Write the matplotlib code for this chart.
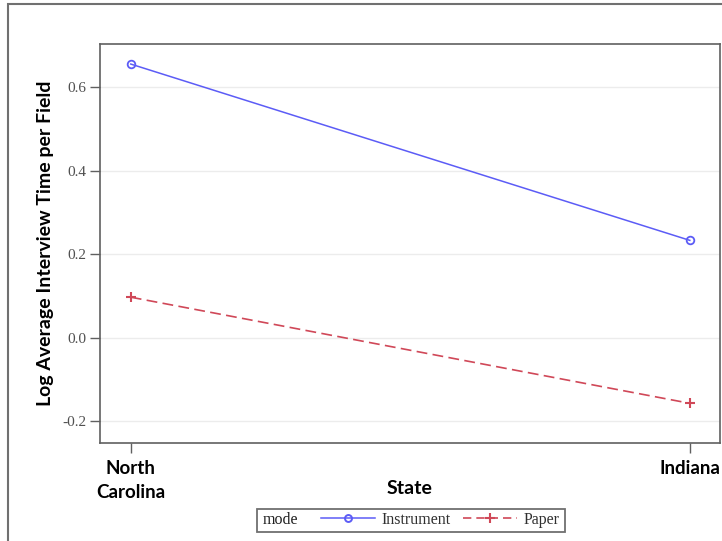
import matplotlib
matplotlib.use("Agg")
import matplotlib.pyplot as plt
from matplotlib.patches import Rectangle
from matplotlib.lines import Line2D

states = ['North\nCarolina', 'Indiana']
instrument = [0.655, 0.233]
paper = [0.097, -0.157]
yticks = [-0.2, 0.0, 0.2, 0.4, 0.6]

W, H = 722, 541
fig = plt.figure(figsize=(W / 100, H / 100), dpi=100)
ax = fig.add_axes([100 / W, 1 - 443 / H, 620 / W, 399 / H])

# outer frame (cut off on the right/bottom like the screenshot)
fig.patches.append(Rectangle((8 / W, -0.05), 1.2, 1 - 4 / H + 0.05, transform=fig.transFigure,
                             fill=False, edgecolor='#707070', linewidth=1.5))

blue = '#5c5cf6'
red = '#d04858'
x = [0, 1]
ax.plot(x, instrument, color=blue, lw=1.1, marker='o', ms=5.5, mfc='none', mew=1.3)
ax.plot(x, paper, color=red, lw=1.2, ls=(0, (6.5, 3.2)), marker='+', ms=6.5, mew=1.5)

ax.set_xlim(-0.055, 1.054)
ax.set_ylim(-0.252, 0.703)
ax.set_yticks(yticks)
ax.set_yticklabels(['%.1f' % v for v in yticks], family='Liberation Serif', fontsize=11, color='#505050')
ax.set_xticks(x)
ax.set_xticklabels(states, family='Lato', fontweight='bold', fontsize=13.5, linespacing=1.5)
ax.grid(axis='y', color='#ececec', lw=1)
ax.set_axisbelow(True)
for s in ax.spines.values():
    s.set_color('#606060')
    s.set_linewidth(1.2)
ax.tick_params(length=7, color='#606060', width=1)
ax.tick_params(axis='x', pad=5)
ax.tick_params(axis='y', pad=3)
ax.set_ylabel('Log Average Interview Time per Field', family='Lato', fontweight='bold', fontsize=14, labelpad=6)
ax.set_xlabel('State', family='Lato', fontweight='bold', fontsize=14)
ax.xaxis.set_label_coords(0.5, -0.093)

# legend: "mode" on the left, entries to the right, one frame around all
fig.text(263 / W, 1 - 520 / H, 'mode', family='Liberation Serif', fontsize=11.5, va='center', color='#202020')
h1 = Line2D([], [], color=blue, lw=1.1, marker='o', ms=5, mfc='none', mew=1.4)
h2 = Line2D([], [], color=red, lw=1.2, ls=(0, (5, 3)), marker='+', ms=7, mew=1.5)
fig.legend([h1, h2], ['Instrument', 'Paper'], loc='center', bbox_to_anchor=(440 / W, 1 - 520 / H),
           ncol=2, frameon=False, prop={'family': 'Liberation Serif', 'size': 11.5},
           labelcolor='#303030', handlelength=3.4, handletextpad=0.4, columnspacing=0.75, borderpad=0)
fig.patches.append(Rectangle((257 / W, 1 - 532 / H), 308 / W, 23 / H, transform=fig.transFigure,
                             fill=False, edgecolor='#707070', linewidth=1.3))

fig.savefig('out.png', dpi=100)
